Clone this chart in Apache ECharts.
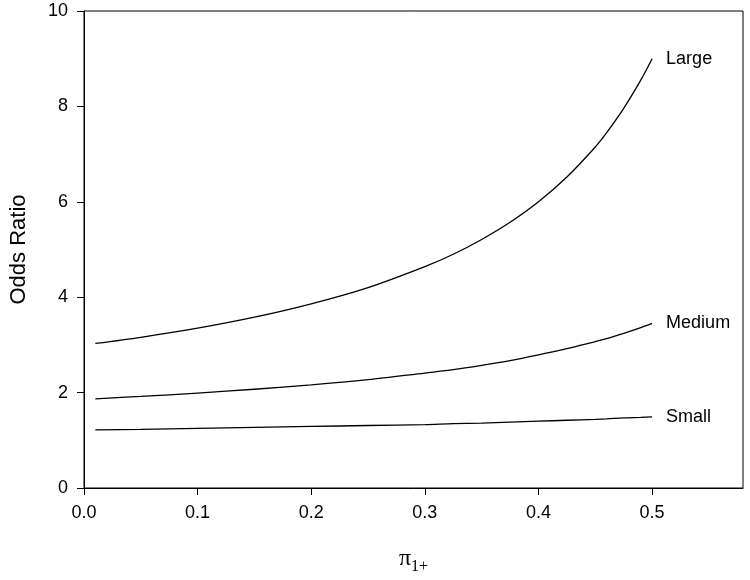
<!DOCTYPE html>
<html>
<head>
<meta charset="utf-8">
<script src="https://cdn.jsdelivr.net/npm/echarts@6/dist/echarts.min.js"></script>
<style>
  html, body { margin: 0; padding: 0; background: #fff; }
  #chart { width: 750px; height: 580px; }
</style>
</head>
<body>
<div id="chart"></div>
<script>
// pi_{1+} values along the x axis
const piValues = [0.01, 0.05, 0.10, 0.15, 0.20, 0.25, 0.30, 0.325, 0.35, 0.375, 0.40, 0.425, 0.45, 0.46, 0.475, 0.49, 0.50];

// odds ratio
const largeOR  = [3.03, 3.16, 3.35, 3.58, 3.86, 4.20, 4.64, 4.90, 5.21, 5.57, 6.00, 6.52, 7.15, 7.45, 7.96, 8.55, 9.00];
const mediumOR = [1.87, 1.92, 1.99, 2.07, 2.16, 2.27, 2.41, 2.48, 2.57, 2.67, 2.79, 2.92, 3.07, 3.13, 3.24, 3.36, 3.45];
const smallOR  = [1.22, 1.23, 1.25, 1.27, 1.29, 1.31, 1.33, 1.35, 1.36, 1.38, 1.40, 1.42, 1.44, 1.45, 1.47, 1.48, 1.49];

const xTicks = [0.0, 0.1, 0.2, 0.3, 0.4, 0.5];
const yTicks = [0, 2, 4, 6, 8, 10];

const sans = "Liberation Sans, Arial, sans-serif";
const serif = "Liberation Serif, Times New Roman, serif";

function pairs(ys) {
  return piValues.map(function (x, i) { return [x, ys[i]]; });
}

function curve(name, ys) {
  return {
    name: name,
    type: "line",
    data: pairs(ys),
    smooth: 0.3,
    showSymbol: false,
    lineStyle: { color: "#000", width: 1.3 },
    endLabel: {
      show: true,
      formatter: name,
      distance: 14,
      color: "#000",
      fontFamily: sans,
      fontSize: 18,
    },
    silent: true,
  };
}

const chart = echarts.init(document.getElementById("chart"));
const option = {
  animation: false,
  grid: {
    left: 79,
    right: 7,
    top: 11,
    bottom: 89,
    show: true,
    borderColor: "#000",
    borderWidth: 1,
  },
  xAxis: {
    type: "value",
    min: 0,
    max: 0.58,
    interval: 0.1,
    name: "{p|π}{s|1+}",
    nameLocation: "middle",
    nameGap: 55,
    nameTextStyle: {
      rich: {
        p: { fontFamily: serif, fontSize: 24, color: "#000" },
        s: { fontFamily: serif, fontSize: 16, color: "#000", verticalAlign: "bottom", padding: [16, 0, 0, 0] },
      },
    },
    axisLine: { show: true, lineStyle: { color: "#000" } },
    axisTick: { show: true, inside: false, length: 7, lineStyle: { color: "#000" } },
    axisLabel: {
      showMaxLabel: false,
      margin: 16,
      color: "#000",
      fontFamily: sans,
      fontSize: 18,
      formatter: function (v) {
        return xTicks.some(function (t) { return Math.abs(t - v) < 1e-9; }) ? v.toFixed(1) : "";
      },
    },
    splitLine: { show: false },
  },
  yAxis: {
    type: "value",
    min: yTicks[0],
    max: yTicks[yTicks.length - 1],
    interval: 2,
    name: "Odds Ratio",
    nameLocation: "middle",
    nameGap: 54,
    nameTextStyle: { color: "#000", fontFamily: sans, fontSize: 22 },
    axisLine: { show: true, lineStyle: { color: "#000" } },
    axisTick: { show: true, inside: false, length: 7, lineStyle: { color: "#000" } },
    axisLabel: {
      margin: 16,
      color: "#000",
      fontFamily: sans,
      fontSize: 18,
    },
    splitLine: { show: false },
  },
  series: [
    curve("Large", largeOR),
    curve("Medium", mediumOR),
    curve("Small", smallOR),
  ],
};
chart.setOption(option);
</script>
</body>
</html>
